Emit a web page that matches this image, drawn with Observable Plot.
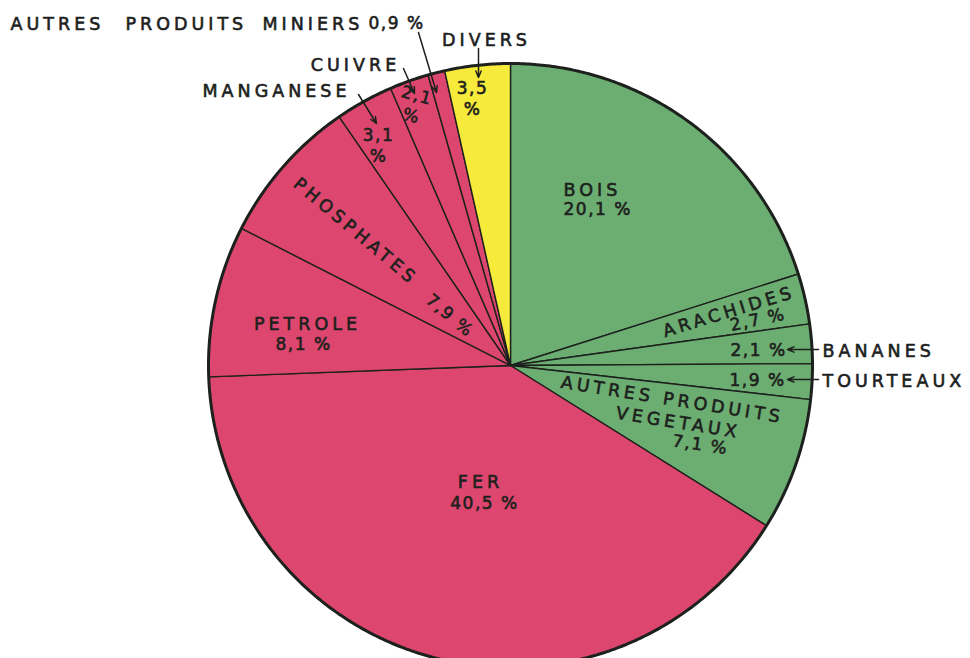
<!DOCTYPE html>
<html>
<head>
<meta charset="utf-8">
<script src="https://cdn.jsdelivr.net/npm/d3@7"></script>
<script src="https://cdn.jsdelivr.net/npm/@observablehq/plot@0.6"></script>
<style>
  html, body { margin: 0; padding: 0; background: #ffffff; }
  #chart svg { display: block; }
</style>
</head>
<body>
<div id="chart"></div>
<script>
// ---- data ----
const categories = ["BOIS", "ARACHIDES", "BANANES", "TOURTEAUX", "AUTRES PRODUITS VEGETAUX",
  "FER", "PETROLE", "PHOSPHATES", "MANGANESE", "CUIVRE", "AUTRES PRODUITS MINIERS", "DIVERS"];
const values = [20.1, 2.7, 2.1, 1.9, 7.1, 40.5, 8.1, 7.9, 3.1, 2.1, 0.9, 3.5];
const groups = ["végétal", "végétal", "végétal", "végétal", "végétal",
  "minier", "minier", "minier", "minier", "minier", "minier", "divers"];
const valueLabels = ["20,1 %", "2,7 %", "2,1 %", "1,9 %", "7,1 %", "40,5 %", "8,1 %", "7,9 %",
  "3,1\n%", "2,1\n%", "0,9 %", "3,5\n%"];

// ---- layout (not data) ----
const W = 970, H = 658, CX = 510, CY = 365, R = 302;
const groupColors = {"végétal": "#6cae72", "minier": "#dd466e", "divers": "#f6ea3a"};
const ink = "#1d211d";

const slices = d3.pie().sort(null).value(d => d.value)(
  categories.map((c, i) => ({category: c, value: values[i], group: groups[i]}))
);
function slicePolygon(s) {
  const pts = [{x: 0, y: 0}];
  const n = Math.max(2, Math.ceil((s.endAngle - s.startAngle) / 0.005));
  for (let k = 0; k <= n; k++) {
    const a = s.startAngle + (s.endAngle - s.startAngle) * k / n;
    pts.push({x: R * Math.sin(a), y: -R * Math.cos(a)});
  }
  pts.push({x: 0, y: 0});
  return pts;
}
const circlePts = d3.range(0, 721).map(k => {
  const a = k / 720 * 2 * Math.PI;
  return {x: R * Math.sin(a), y: -R * Math.cos(a)};
});

// label placements in page pixels -> converted to scale coordinates
const P = (px, py) => ({x: px - CX, y: py - CY});
const words = [
  {t: "BOIS", ...P(563, 188), a: "start", r: 0},
  {t: "ARACHIDES", ...P(728, 310), a: "middle", r: -17},
  {t: "BANANES", ...P(822, 349), a: "start", r: 0},
  {t: "TOURTEAUX", ...P(822, 379), a: "start", r: 0},
  {t: "AUTRES PRODUITS", ...P(672, 398), a: "middle", r: 9},
  {t: "VEGETAUX", ...P(678, 421), a: "middle", r: 9},
  {t: "FER", ...P(480, 480), a: "middle", r: 0},
  {t: "PETROLE", ...P(307, 322), a: "middle", r: 0},
  {t: "PHOSPHATES", ...P(356, 230), a: "middle", r: 40},
  {t: "MANGANESE", ...P(276, 89), a: "middle", r: 0},
  {t: "CUIVRE", ...P(355, 63), a: "middle", r: 0},
  {t: "DIVERS", ...P(486, 38), a: "middle", r: 0},
  {t: "AUTRES", ...P(10, 22), a: "start", r: 0},
  {t: "PRODUITS", ...P(125, 22), a: "start", r: 0},
  {t: "MINIERS", ...P(262, 22), a: "start", r: 0}
];
const numbers = [
  {t: valueLabels[0], ...P(563, 208), a: "start", r: 0},
  {t: valueLabels[1], ...P(757, 318), a: "middle", r: -12},
  {t: valueLabels[2], ...P(758, 349), a: "middle", r: 0},
  {t: valueLabels[3], ...P(757, 379), a: "middle", r: 0},
  {t: valueLabels[4], ...P(700, 443), a: "middle", r: 8},
  {t: valueLabels[5], ...P(484, 502), a: "middle", r: 0},
  {t: valueLabels[6], ...P(303, 343), a: "middle", r: 0},
  {t: valueLabels[7], ...P(450, 314), a: "middle", r: 40},
  {t: valueLabels[8], ...P(378, 144), a: "middle", r: 0},
  {t: valueLabels[9], ...P(414, 104), a: "middle", r: 15},
  {t: valueLabels[11], ...P(472, 97), a: "middle", r: 0},
  {t: valueLabels[10], ...P(368, 22), a: "start", r: 0}
];
const seg = (a, b) => ({x1: a.x, y1: a.y, x2: b.x, y2: b.y});
const arrows = [
  seg(P(358, 94), P(376, 123)),
  seg(P(403, 68), P(414, 93)),
  seg(P(418, 32), P(436, 92)),
  seg(P(478, 48), P(478, 77)),
  seg(P(818, 349), P(787, 349)),
  seg(P(818, 379), P(787, 379))
];

const sliceMarks = slices.map(s => Plot.line(slicePolygon(s), {
  x: "x", y: "y", fill: groupColors[s.data.group], stroke: ink, strokeWidth: 1.4,
  strokeLinejoin: "round"
}));

function textMarks(list, size) {
  const combos = d3.groups(list, d => d.r, d => d.a);
  return combos.flatMap(([rot, byAnchor]) => byAnchor.map(([anchor, items]) =>
    Plot.text(items, {
      x: "x", y: "y", text: "t", rotate: rot, textAnchor: anchor, fontSize: size, lineHeight: 1.25,
      fill: ink, stroke: ink, strokeWidth: 0.6
    })));
}

const chart = Plot.plot({
  width: W, height: H,
  margin: 0,
  x: {domain: [-CX, W - CX], range: [0, W], axis: null},
  y: {domain: [-CY, H - CY], range: [0, H], axis: null},
  style: {fontFamily: "'DejaVu Sans', sans-serif", background: "#ffffff"},
  marks: [
    ...sliceMarks,
    Plot.line(circlePts, {x: "x", y: "y", stroke: ink, strokeWidth: 3}),
    Plot.arrow(arrows, {x1: "x1", y1: "y1", x2: "x2", y2: "y2", stroke: ink, strokeWidth: 1.5, headLength: 7, headAngle: 45}),
    ...textMarks(words, 17.5),
    ...textMarks(numbers, 17)
  ]
});
// wide lettering for words, tighter for figures
d3.select(chart).selectAll("text")
  .style("letter-spacing", function () { return /\d/.test(this.textContent) ? "1.5px" : "4px"; });
document.getElementById("chart").appendChild(chart);
</script>
</body>
</html>
